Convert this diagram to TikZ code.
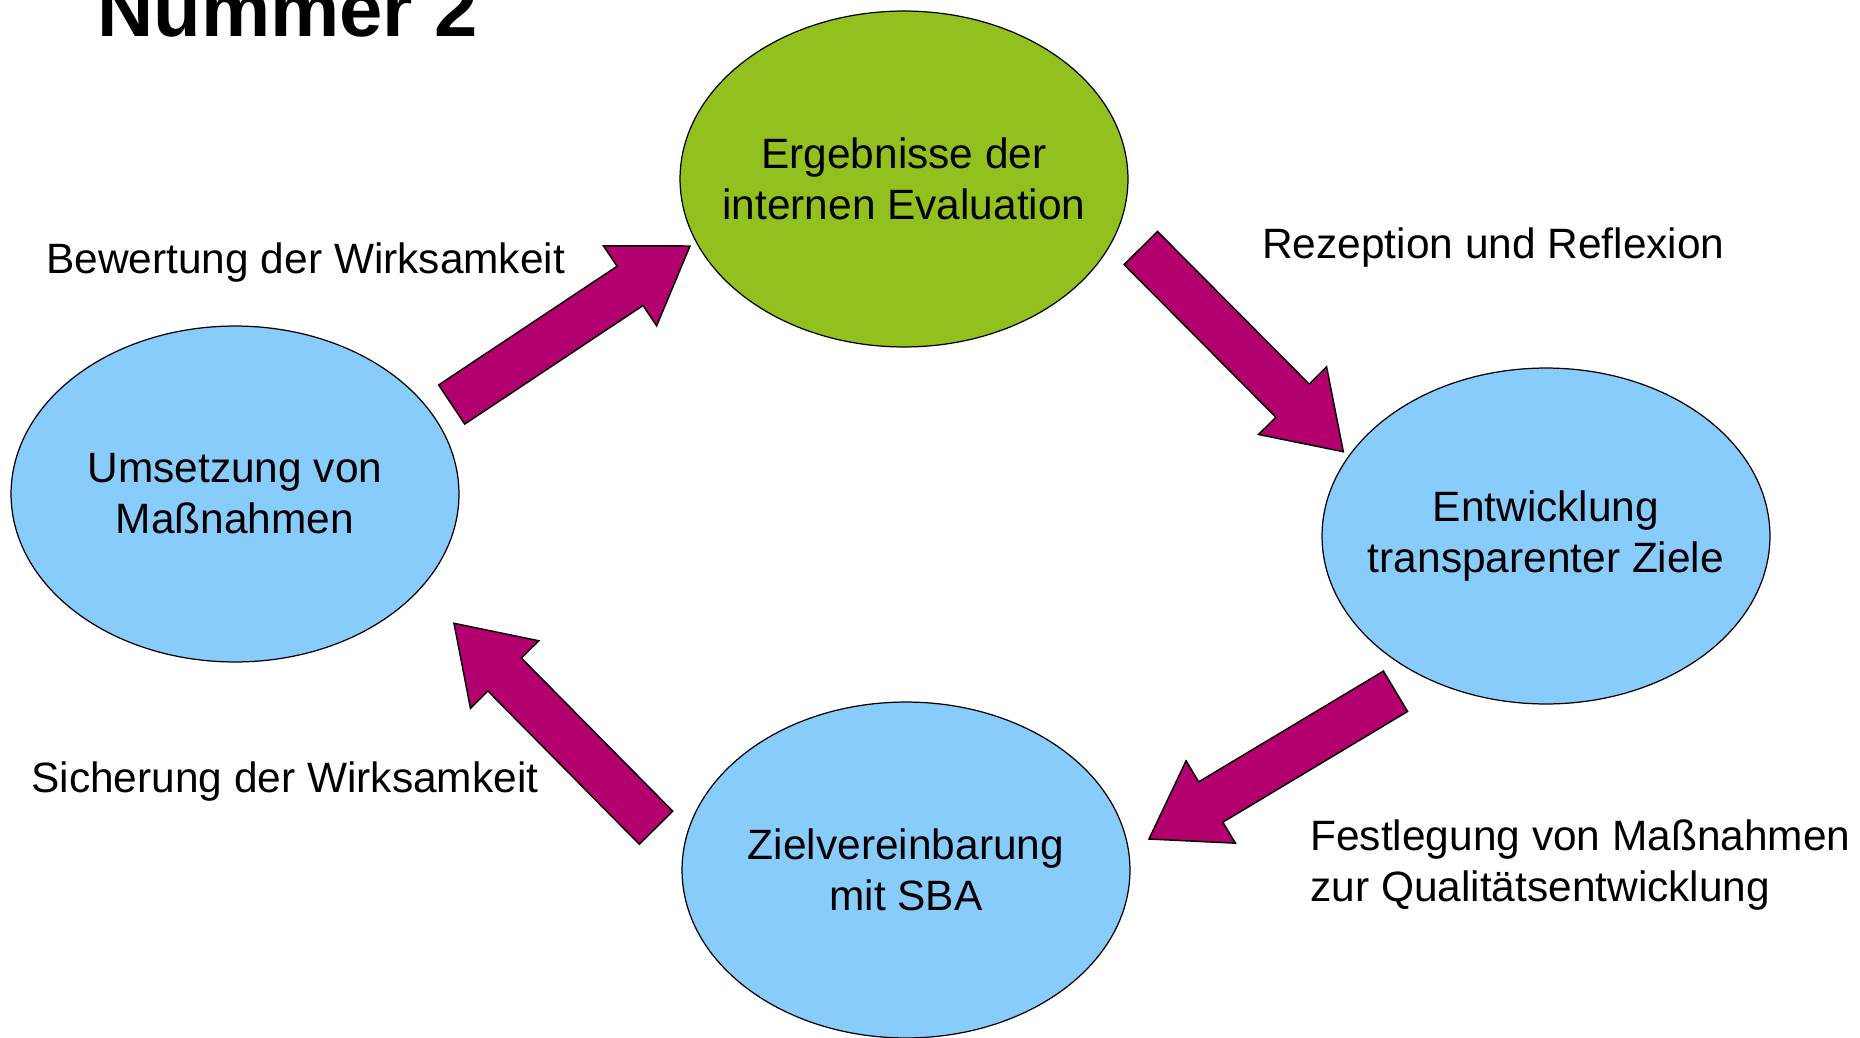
\documentclass[tikz,border=0pt]{standalone}
\usepackage{fontspec}
\setmainfont{Liberation Sans}
\usepackage{xcolor}
\usepackage{tikz}
\usetikzlibrary{calc,shapes.geometric}
\definecolor{evalgreen}{HTML}{92C01F}
\definecolor{stepblue}{HTML}{88CCFC}
\definecolor{arrowmag}{HTML}{B4006E}
\tikzset{
  phase/.style={ellipse, draw=black, line width=0.7pt, minimum width=8.96cm,
    minimum height=6.72cm, inner xsep=-0.6cm, inner ysep=0pt, align=center,
    font=\fontsize{24.15}{29}\selectfont},
  bigarrow/.style={draw=black, fill=arrowmag, line width=0.85pt, line join=miter},
  lab/.style={anchor=west, inner sep=0pt, align=left,
    font=\fontsize{24.15}{29}\selectfont},
  every node/.style={text=black}
}

\begin{document}
\begin{tikzpicture}[x=0.02cm, y=-0.02cm]
  \useasboundingbox (0,0) rectangle (1860,1038);

  \node[anchor=base west, inner sep=0pt, font=\fontsize{44.3}{52}\selectfont\bfseries]
    (title) at (97,36) {Nummer 2};

  \node[phase, fill=evalgreen] (eval) at (904,179) {Ergebnisse der\\internen Evaluation};
  \node[phase, fill=stepblue] (ziele) at (1546,536) {Entwicklung\\transparenter Ziele};
  \node[phase, fill=stepblue] (vereinb) at (906,870) {Zielvereinbarung\\mit SBA};
  \node[phase, fill=stepblue] (umsetz) at (235,494) {Umsetzung von\\Maßnahmen};

  \coordinate (bew-s) at (451.7,404.5);  \coordinate (bew-e) at (690,246);
  \coordinate (rez-s) at (1140.8,248);   \coordinate (rez-e) at (1343.3,451.7);
  \coordinate (fest-s) at (1395.5,691.3); \coordinate (fest-e) at (1149,839);
  \coordinate (sich-s) at (656,827.7);   \coordinate (sich-e) at (454,623.3);

  % block arrows: shaft 47px, head 96px wide and 72px long
  \foreach \from/\to in {bew-s/bew-e, rez-s/rez-e, fest-s/fest-e, sich-s/sich-e} {
    \coordinate (neck) at ($(\to)!1.44cm!(\from)$);
    \draw[bigarrow] ($(\from)!0.47cm!90:(\to)$) -- ($(neck)!0.47cm!90:(\to)$)
      -- ($(neck)!0.96cm!90:(\to)$) -- (\to) -- ($(neck)!0.96cm!-90:(\to)$)
      -- ($(neck)!0.47cm!-90:(\to)$) -- ($(\from)!0.47cm!-90:(\to)$) -- cycle;
  }

  \node[lab] (bew) at (46,263) {Bewertung der Wirksamkeit};
  \node[lab] (rez) at (1262,248) {Rezeption und Reflexion};
  \node[lab] (sich) at (31,782) {Sicherung der Wirksamkeit};
  \node[lab] (fest) at (1310,865) {Festlegung von Maßnahmen\\zur Qualitätsentwicklung};
\end{tikzpicture}
\end{document}
